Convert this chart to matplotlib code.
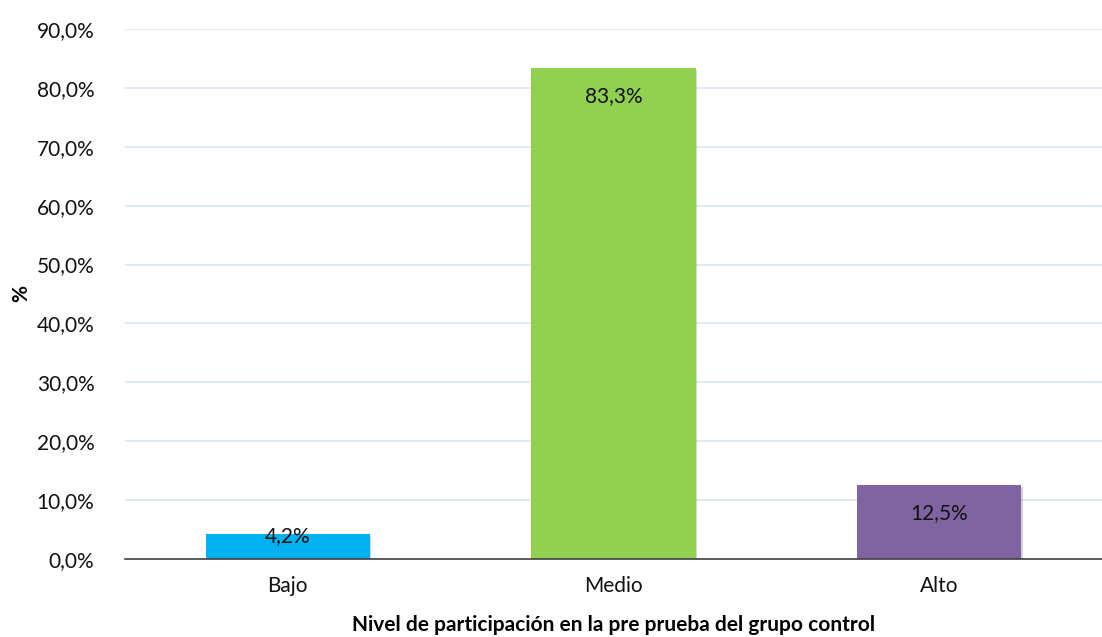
import matplotlib.pyplot as plt
from matplotlib.ticker import FuncFormatter, MultipleLocator
import matplotlib.patheffects as pe

categories = ["Bajo", "Medio", "Alto"]
values = [4.2, 83.3, 12.5]
colors = ["#00B0F0", "#92D050", "#8064A2"]

plt.rcParams['font.family'] = ['Lato', 'DejaVu Sans']

fig = plt.figure(figsize=(11.02, 6.37), dpi=100)
ax = fig.add_axes([125 / 1102, 1 - 559 / 637, 1 - 125 / 1102, 530 / 637])

x = range(len(categories))
bars = ax.bar(x, values, width=0.505, color=colors, zorder=3,
              path_effects=[pe.SimplePatchShadow(offset=(0.8, -1.2), alpha=0.2),
                            pe.Normal()])

# label offsets (points below bar top), short bar gets label at its top
offsets = [-1, -20, -20]
for b, v, off in zip(bars, values, offsets):
    ax.annotate(f"{v:.1f}%".replace(".", ","), (b.get_x() + b.get_width() / 2, v),
                xytext=(0, off), textcoords="offset points",
                ha="center", va="center", fontsize=15, color="#111111", zorder=4)

ax.set_xlim(-0.5, len(categories) - 0.5)
ax.set_ylim(0, 90)
ax.yaxis.set_major_locator(MultipleLocator(10))
ax.yaxis.set_major_formatter(FuncFormatter(lambda v, p: f"{v:.1f}%".replace(".", ",")))
ax.grid(axis="y", color="#DCE6F2", linewidth=1.2, zorder=0)
ax.set_xticks(list(x))
ax.set_xticklabels(categories)
ax.tick_params(axis="both", length=0, labelsize=15, colors="#111111")
ax.tick_params(axis="x", pad=12)
ax.tick_params(axis="y", pad=22)

for s in ["top", "right", "left"]:
    ax.spines[s].set_visible(False)
ax.spines["bottom"].set_color("#404040")
ax.spines["bottom"].set_linewidth(1.2)
ax.spines["bottom"].set_zorder(5)

ax.set_xlabel("Nivel de participación en la pre prueba del grupo control",
              fontsize=15, fontweight="bold", labelpad=14)
fig.text(21 / 1102, 1 - 293 / 637, "%", rotation=90, ha="center", va="center",
         fontsize=15, fontweight="bold")

fig.savefig("out.png", dpi=100)
